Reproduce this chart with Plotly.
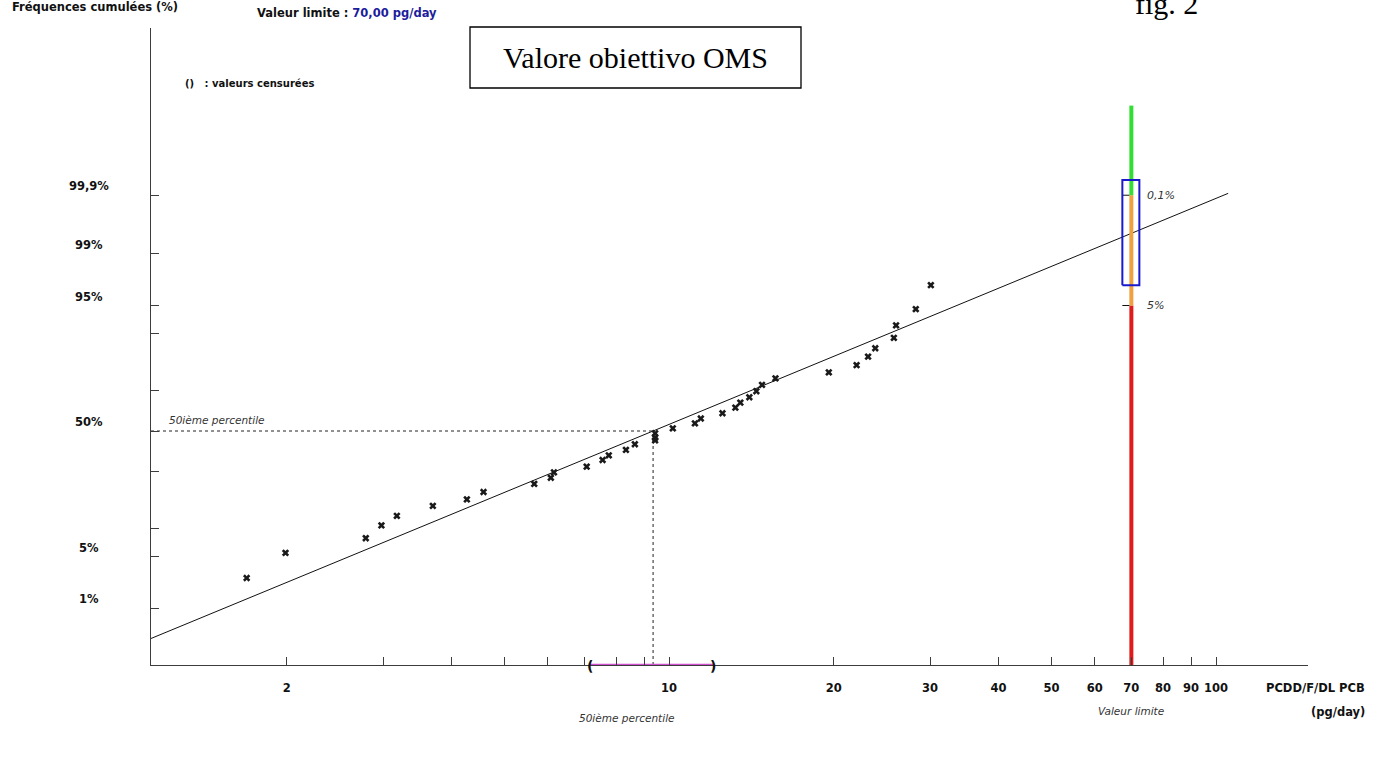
import math
from statistics import NormalDist
import plotly.graph_objects as go

_nd = NormalDist()


def probit(pct):
    return _nd.inv_cdf(pct / 100.0)


# ---------------- data ----------------
conc = [1.69, 1.99, 2.79, 2.98, 3.18, 3.70, 4.27, 4.58, 5.67, 6.08, 6.16, 7.07,
        7.56, 7.76, 8.34, 8.66, 9.43, 9.43, 9.43, 10.16, 11.15, 11.43, 12.52,
        13.22, 13.50, 14.02, 14.44, 14.79, 15.65, 19.59, 22.02, 23.11, 23.82,
        25.76, 26.00, 28.25, 30.10]
cum_pct = [2.7, 5.5, 8.0, 10.8, 13.3, 16.3, 18.5, 21.2, 24.4, 27.0, 29.4, 32.0,
           35.2, 37.5, 40.2, 43.1, 45.1, 46.5, 48.8, 51.4, 54.0, 56.5, 59.2,
           62.0, 64.5, 67.1, 69.9, 72.7, 75.5, 77.9, 80.6, 83.5, 86.1,
           88.9, 91.7, 94.5, 97.2]

fit_median = 9.35          # 50th percentile of the fitted log-normal line
fit_slope = 2.963          # probits per decade
fit_x = [1.13, 105.2]      # extent of the fitted line

median_ci = [7.16, 12.03]  # confidence interval of the 50th percentile
limit_value = 70           # valeur limite (pg/day)
limit_bands_pct = [95, 99.9, 99.999]   # red up to 95 %, orange up to 99.9 %, green above
exceed_ci_pct = [97.2, 99.95]          # blue box around the limit

y_tick_pct = [99.9, 99, 95, 90, 70, 50, 30, 10, 5, 1]
y_label_pct = [99.9, 99, 95, 50, 5, 1]
y_label_text = ["99,9%", "99%", "95%", "50%", "5%", "1%"]
x_tick_vals = [2, 3, 4, 5, 6, 7, 8, 9, 10, 20, 30, 40, 50, 60, 70, 80, 90, 100]
x_tick_text = ["2", "", "", "", "", "", "", "", "10", "20", "30", "40", "50",
               "60", "70", "80", "90", "100"]

XR = [0.053, 2.168]   # log10 range
YR = [-3.067, 5.282]  # probit range

# ---------------- layout geometry ----------------
W, H = 1382, 757
ML, MR, MT, MB = 151, 74, 28, 92
PW, PH = W - ML - MR, H - MT - MB
PPD = PW / (XR[1] - XR[0])   # pixels per decade on the x axis


def px(x):
    return (x - ML) / PW


def py(y):
    return (H - MB - y) / PH


def xoff(v, dpx):
    """data value shifted by dpx screen pixels on the log x axis"""
    return v * 10 ** (dpx / PPD)


FONT = "DejaVu Sans"
AX = "#3c3c3c"

fig = go.Figure()

# fitted line
fit_z = [fit_slope * (math.log10(v) - math.log10(fit_median)) for v in fit_x]
fig.add_trace(go.Scatter(x=fit_x, y=fit_z, mode="lines",
                         line=dict(color="#111111", width=1), hoverinfo="skip"))

# dashed 50th percentile guides
xmin = 10 ** XR[0]
fig.add_trace(go.Scatter(x=[xmin, fit_median], y=[0, 0], mode="lines",
                         line=dict(color="#222222", width=1, dash="3px,3px"),
                         hoverinfo="skip"))
fig.add_trace(go.Scatter(x=[fit_median, fit_median], y=[YR[0], 0], mode="lines",
                         line=dict(color="#222222", width=1, dash="3px,3px"),
                         hoverinfo="skip"))

# limit line (red / orange / green)
band_z = [YR[0]] + [probit(p) for p in limit_bands_pct]
band_colors = ["#e01b1b", "#f0a040", "#33dd33"]
for i, c in enumerate(band_colors):
    fig.add_trace(go.Scatter(x=[limit_value, limit_value], y=[band_z[i], band_z[i + 1]],
                             mode="lines", line=dict(color=c, width=4),
                             hoverinfo="skip", cliponaxis=False))

# small ticks next to the limit line
for p in limit_bands_pct[:2]:
    fig.add_trace(go.Scatter(x=[xoff(limit_value, -9), xoff(limit_value, -2)],
                             y=[probit(p), probit(p)], mode="lines",
                             line=dict(color="#111111", width=1), hoverinfo="skip"))

# blue box
fig.add_trace(go.Scatter(
    x=[xoff(limit_value, -9), xoff(limit_value, 8), xoff(limit_value, 8),
       xoff(limit_value, -9), xoff(limit_value, -9)],
    y=[probit(exceed_ci_pct[0]), probit(exceed_ci_pct[0]), probit(exceed_ci_pct[1]),
       probit(exceed_ci_pct[1]), probit(exceed_ci_pct[0])],
    mode="lines", line=dict(color="#1a1acc", width=2), hoverinfo="skip"))

# median confidence interval on the x axis
fig.add_trace(go.Scatter(x=median_ci, y=[YR[0], YR[0]], mode="lines",
                         line=dict(color="#d050d0", width=2.5),
                         hoverinfo="skip", cliponaxis=False))

# data points
fig.add_trace(go.Scatter(x=conc, y=[probit(p) for p in cum_pct], mode="markers",
                         marker=dict(symbol="x", size=6.5, color="#1a1a1a",
                                     line=dict(width=0)),
                         hoverinfo="skip"))

shapes = [
    # "Valore obiettivo OMS" frame
    dict(type="rect", xref="paper", yref="paper",
         x0=px(470), x1=px(801), y0=py(88), y1=py(27),
         line=dict(color="#000000", width=1.3), fillcolor="white", layer="above"),
]

ann = []


def A(text, x, y, xanchor="left", yanchor="middle", size=11.5, color="#111111",
      family=FONT, xref="paper", yref="paper", **kw):
    d = dict(text=text, x=x, y=y, xref=xref, yref=yref, xanchor=xanchor,
             yanchor=yanchor, showarrow=False,
             font=dict(family=family, size=size, color=color))
    d.update(kw)
    ann.append(d)


A("<b>Fréquences cumulées (%)</b>", px(10), py(7))
A("<b>Valeur limite : <span style='color:#1c1c9c'>70,00 pg/day</span></b>", px(255), py(13))
A("<b>()   : valeurs censurées</b>", px(183), py(83), size=10)
A("Valore obiettivo OMS", px(635.5), py(57.5), xanchor="center", size=30,
  family="Liberation Serif", color="#000000")
A("fig. 2", px(1133), py(3), size=30, family="Liberation Serif", color="#000000")

for p, t in zip(y_label_pct, y_label_text):
    A("<b>" + t + "</b>", px(89), probit(p), xanchor="center", yref="y", yshift=9)

LX = math.log10(limit_value)
A("<i>50ième percentile</i>", px(167), 0, yref="y", yshift=11, size=10.5, color="#333333")
A("<i>50ième percentile</i>", px(627), py(718), xanchor="center", size=10.5, color="#333333")
A("<i>Valeur limite</i>", LX, py(711), xref="x", xanchor="center",
  size=10.5, color="#333333")
A("<i>0,1%</i>", LX, probit(limit_bands_pct[1]), xref="x", yref="y",
  xshift=14, size=11, color="#333333")
A("<i>5%</i>", LX, probit(limit_bands_pct[0]), xref="x", yref="y",
  xshift=14, size=11, color="#333333")
A("<b>PCDD/F/DL PCB</b>", px(1367), py(688), xanchor="right")
A("<b>(pg/day)</b>", px(1367), py(712), xanchor="right")
A("<b>(</b>", math.log10(median_ci[0]), 0, xref="x", yref="paper", xanchor="center",
  size=14, yshift=-1)
A("<b>)</b>", math.log10(median_ci[1]), 0, xref="x", yref="paper", xanchor="center",
  size=14, yshift=-1)

fig.update_layout(
    width=W, height=H, autosize=False,
    margin=dict(l=ML, r=MR, t=MT, b=MB, pad=0),
    paper_bgcolor="white", plot_bgcolor="white",
    showlegend=False,
    font=dict(family=FONT, size=11.5, color="#111111"),
    shapes=shapes, annotations=ann,
    xaxis=dict(type="log", range=XR, showgrid=False, zeroline=False,
               showline=True, linecolor=AX, linewidth=1,
               ticks="inside", ticklen=8, tickcolor=AX, tickwidth=1,
               tickvals=x_tick_vals, ticktext=x_tick_text,
               tickfont=dict(family=FONT, size=11.5, color="#111111", weight="bold"),
               ticklabelstandoff=12),
    yaxis=dict(range=YR, showgrid=False, zeroline=False,
               showline=True, linecolor=AX, linewidth=1,
               ticks="inside", ticklen=8, tickcolor=AX, tickwidth=1,
               tickvals=[probit(p) for p in y_tick_pct],
               ticktext=["" for _ in y_tick_pct]),
)

fig.write_html("out.html")
